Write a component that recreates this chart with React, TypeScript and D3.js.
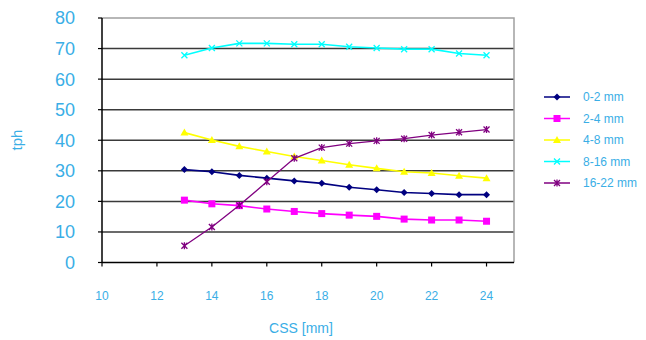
import React, { useEffect, useRef } from 'react';
import * as d3 from 'd3';

const css = [13, 14, 15, 16, 17, 18, 19, 20, 21, 22, 23, 24];
const s0_2 = [30.4, 29.7, 28.5, 27.6, 26.7, 25.9, 24.6, 23.8, 22.9, 22.6, 22.2, 22.2];
const s2_4 = [20.4, 19.2, 18.6, 17.5, 16.7, 16.0, 15.5, 15.1, 14.2, 13.9, 13.9, 13.5];
const s4_8 = [42.5, 40.1, 38.0, 36.3, 34.7, 33.4, 32.0, 30.8, 29.7, 29.3, 28.4, 27.6];
const s8_16 = [67.8, 70.2, 71.7, 71.7, 71.4, 71.4, 70.6, 70.2, 69.8, 69.8, 68.4, 67.8];
const s16_22 = [5.5, 11.6, 18.7, 26.4, 34.1, 37.6, 38.9, 39.8, 40.5, 41.7, 42.6, 43.5];
const seriesNames = ['0-2 mm', '2-4 mm', '4-8 mm', '8-16 mm', '16-22 mm'];
const xTicks = [10, 12, 14, 16, 18, 20, 22, 24];
const yTicks = [0, 10, 20, 30, 40, 50, 60, 70, 80];

const colors = ['#000080', '#ff00ff', '#ffff00', '#00ffff', '#800080'];
const markers = ['diamond', 'square', 'triangle', 'cross', 'star'];
const textColor = '#3aaee6';
const font = '"Liberation Sans", Arial, sans-serif';

const drawMarker = (g, type, x, y, color) => {
	if (type === 'diamond') {
		g.append('path').attr('d', `M${x},${y - 3.5}L${x + 3.5},${y}L${x},${y + 3.5}L${x - 3.5},${y}Z`).attr('fill', color);
	} else if (type === 'square') {
		g.append('rect').attr('x', x - 3.5).attr('y', y - 3.5).attr('width', 7).attr('height', 7).attr('fill', color);
	} else if (type === 'triangle') {
		g.append('path').attr('d', `M${x},${y - 4}L${x + 4},${y + 3}L${x - 4},${y + 3}Z`).attr('fill', color);
	} else {
		const p = `M${x - 3},${y - 3}L${x + 3},${y + 3}M${x - 3},${y + 3}L${x + 3},${y - 3}` + (type === 'star' ? `M${x},${y - 3.5}L${x},${y + 3.5}` : '');
		g.append('path').attr('d', p).attr('stroke', color).attr('stroke-width', 1.3).attr('fill', 'none');
	}
};

const drawChart = (element) => {
	const data = [s0_2, s2_4, s4_8, s8_16, s16_22];
	d3.select(element).select('svg').remove();
	const svg = d3.select(element).append('svg').attr('width', 646).attr('height', 340).style('display', 'block');
	svg.append('rect').attr('width', 646).attr('height', 340).attr('fill', '#fff');

	const x = d3.scaleLinear().domain([10, 25]).range([102, 514]);
	const y = d3.scaleLinear().domain([0, 80]).range([262.5, 18]);

	// gridlines
	svg.append('g').selectAll('line').data(yTicks.filter((t) => t > 0 && t < 80)).enter().append('line')
		.attr('x1', x(10)).attr('x2', x(25)).attr('y1', (d) => y(d)).attr('y2', (d) => y(d))
		.attr('stroke', '#3a3a3a').attr('stroke-width', 1.5);
	// top and right border
	svg.append('path').attr('d', `M${x(10)},${y(80)}H${x(25)}V${y(0)}`).attr('stroke', '#a0a0a0').attr('stroke-width', 1.5).attr('fill', 'none');

	// axes
	svg.append('line').attr('x1', x(10)).attr('x2', x(10)).attr('y1', y(80)).attr('y2', y(0)).attr('stroke', '#000').attr('stroke-width', 1.5);
	svg.append('line').attr('x1', x(10)).attr('x2', x(25)).attr('y1', y(0)).attr('y2', y(0)).attr('stroke', '#000').attr('stroke-width', 1.5);
	svg.append('g').selectAll('line').data(yTicks).enter().append('line')
		.attr('x1', x(10) - 4).attr('x2', x(10)).attr('y1', (d) => y(d)).attr('y2', (d) => y(d)).attr('stroke', '#000').attr('stroke-width', 1.2);
	svg.append('g').selectAll('line').data(xTicks).enter().append('line')
		.attr('x1', (d) => x(d)).attr('x2', (d) => x(d)).attr('y1', y(0)).attr('y2', y(0) + 4).attr('stroke', '#000').attr('stroke-width', 1.2);

	svg.append('g').selectAll('text').data(yTicks).enter().append('text')
		.attr('x', 75).attr('y', (d) => y(d)).attr('dy', '0.36em').attr('text-anchor', 'end')
		.style('font-family', font).style('font-size', '18px').attr('fill', textColor).text((d) => d);
	svg.append('g').selectAll('text').data(xTicks).enter().append('text')
		.attr('x', (d) => x(d)).attr('y', 300).attr('text-anchor', 'middle')
		.style('font-family', font).style('font-size', '12px').attr('fill', textColor).text((d) => d);

	svg.append('text').attr('x', 301).attr('y', 333).attr('text-anchor', 'middle')
		.style('font-family', font).style('font-size', '14px').attr('fill', textColor).text('CSS [mm]');
	svg.append('text').attr('transform', 'translate(22,140) rotate(-90)').attr('text-anchor', 'middle')
		.style('font-family', font).style('font-size', '15px').attr('fill', textColor).text('tph');

	const line = d3.line().x((d) => x(d[0])).y((d) => y(d[1]));
	data.forEach((vals, i) => {
		const pts = css.map((c, j) => [c, vals[j]]);
		const g = svg.append('g');
		g.append('path').attr('d', line(pts)).attr('fill', 'none').attr('stroke', colors[i]).attr('stroke-width', i === 4 ? 1.3 : 1.6);
		pts.forEach((p) => drawMarker(g, markers[i], x(p[0]), y(p[1]), colors[i]));
	});

	// legend
	const lg = svg.append('g');
	seriesNames.forEach((name, i) => {
		const ly = 97 + i * 21.5;
		lg.append('line').attr('x1', 544).attr('x2', 570).attr('y1', ly).attr('y2', ly).attr('stroke', colors[i]).attr('stroke-width', 1.5);
		drawMarker(lg, markers[i], 557, ly, colors[i]);
		lg.append('text').attr('x', 583).attr('y', ly).attr('dy', '0.35em')
			.style('font-family', font).style('font-size', '12px').attr('fill', textColor).text(name);
	});
};

export default function App() {
	const ref = useRef(null);
	useEffect(() => {
		if (ref.current) drawChart(ref.current);
	}, []);
	return <div ref={ref} style={{ position: 'absolute', left: 0, top: 0, width: 646, height: 340 }} />;
}
